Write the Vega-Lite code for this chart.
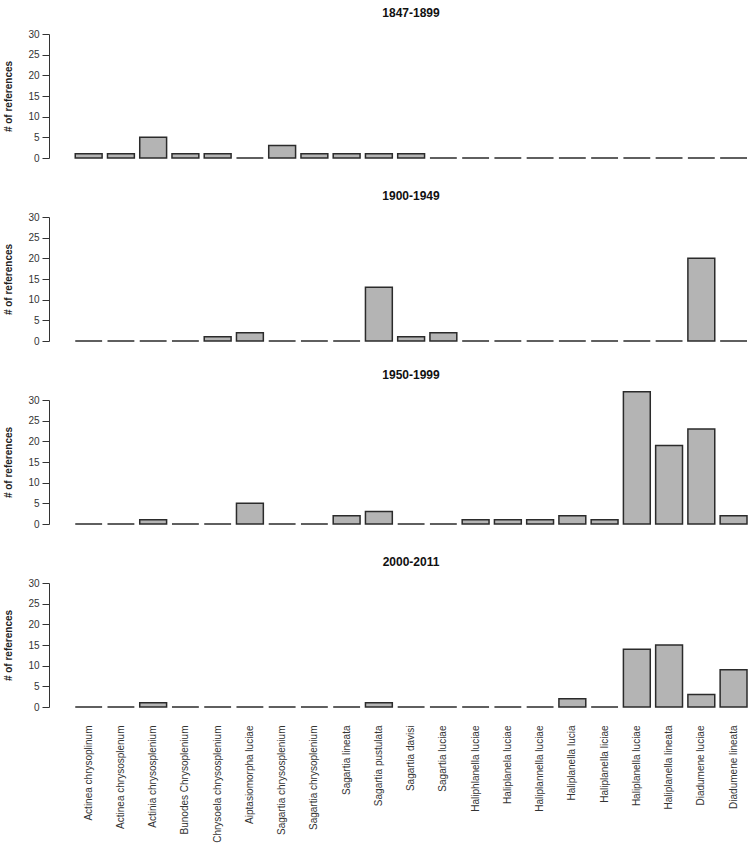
{
  "$schema": "https://vega.github.io/schema/vega-lite/v6.json",
  "background": "white",
  "padding": {"left": 3, "top": 7, "right": 0, "bottom": 0},
  "bounds": "flush",
  "spacing": 59,
  "config": {
    "view": {"stroke": null},
    "font": "Liberation Sans",
    "title": {"fontSize": 12, "fontWeight": "bold", "color": "#111111", "anchor": "middle", "offset": 9, "dx": 10},
    "axisY": {
      "labelFontSize": 10, "labelColor": "#333333", "labelPadding": 3,
      "tickSize": 7, "tickColor": "#333333", "domainColor": "#333333",
      "titleFontSize": 10, "titleFontWeight": "bold", "titleColor": "#222222", "titlePadding": 14,
      "grid": false
    },
    "axisX": {
      "labelFontSize": 10, "labelColor": "#333333", "labelPadding": 18, "labelLimit": 0,
      "domain": false, "ticks": false, "tickSize": 0, "grid": false
    }
  },
  "data": {"values": [
    {"period": "1847-1899", "idx": 1, "species": "Actinea chrysoplinum", "n": 1},
    {"period": "1847-1899", "idx": 2, "species": "Actinea chrysosplenum", "n": 1},
    {"period": "1847-1899", "idx": 3, "species": "Actinia chrysosplenium", "n": 5},
    {"period": "1847-1899", "idx": 4, "species": "Bunodes Chrysoplenium", "n": 1},
    {"period": "1847-1899", "idx": 5, "species": "Chrysoela chrysosplenium", "n": 1},
    {"period": "1847-1899", "idx": 6, "species": "Aiptasiomorpha luciae", "n": 0},
    {"period": "1847-1899", "idx": 7, "species": "Sagartia chrysosplenium", "n": 3},
    {"period": "1847-1899", "idx": 8, "species": "Sagartia chrysoplenium", "n": 1},
    {"period": "1847-1899", "idx": 9, "species": "Sagartia lineata", "n": 1},
    {"period": "1847-1899", "idx": 10, "species": "Sagartia pustulata", "n": 1},
    {"period": "1847-1899", "idx": 11, "species": "Sagartia davisi", "n": 1},
    {"period": "1847-1899", "idx": 12, "species": "Sagartia luciae", "n": 0},
    {"period": "1847-1899", "idx": 13, "species": "Haliphlanella luciae", "n": 0},
    {"period": "1847-1899", "idx": 14, "species": "Haliplanela luciae", "n": 0},
    {"period": "1847-1899", "idx": 15, "species": "Haliplannella luciae", "n": 0},
    {"period": "1847-1899", "idx": 16, "species": "Haliplanella lucia", "n": 0},
    {"period": "1847-1899", "idx": 17, "species": "Haliplanella liciae", "n": 0},
    {"period": "1847-1899", "idx": 18, "species": "Haliplanella luciae", "n": 0},
    {"period": "1847-1899", "idx": 19, "species": "Haliplanella lineata", "n": 0},
    {"period": "1847-1899", "idx": 20, "species": "Diadumene luciae", "n": 0},
    {"period": "1847-1899", "idx": 21, "species": "Diadumene lineata", "n": 0},

    {"period": "1900-1949", "idx": 1, "species": "Actinea chrysoplinum", "n": 0},
    {"period": "1900-1949", "idx": 2, "species": "Actinea chrysosplenum", "n": 0},
    {"period": "1900-1949", "idx": 3, "species": "Actinia chrysosplenium", "n": 0},
    {"period": "1900-1949", "idx": 4, "species": "Bunodes Chrysoplenium", "n": 0},
    {"period": "1900-1949", "idx": 5, "species": "Chrysoela chrysosplenium", "n": 1},
    {"period": "1900-1949", "idx": 6, "species": "Aiptasiomorpha luciae", "n": 2},
    {"period": "1900-1949", "idx": 7, "species": "Sagartia chrysosplenium", "n": 0},
    {"period": "1900-1949", "idx": 8, "species": "Sagartia chrysoplenium", "n": 0},
    {"period": "1900-1949", "idx": 9, "species": "Sagartia lineata", "n": 0},
    {"period": "1900-1949", "idx": 10, "species": "Sagartia pustulata", "n": 13},
    {"period": "1900-1949", "idx": 11, "species": "Sagartia davisi", "n": 1},
    {"period": "1900-1949", "idx": 12, "species": "Sagartia luciae", "n": 2},
    {"period": "1900-1949", "idx": 13, "species": "Haliphlanella luciae", "n": 0},
    {"period": "1900-1949", "idx": 14, "species": "Haliplanela luciae", "n": 0},
    {"period": "1900-1949", "idx": 15, "species": "Haliplannella luciae", "n": 0},
    {"period": "1900-1949", "idx": 16, "species": "Haliplanella lucia", "n": 0},
    {"period": "1900-1949", "idx": 17, "species": "Haliplanella liciae", "n": 0},
    {"period": "1900-1949", "idx": 18, "species": "Haliplanella luciae", "n": 0},
    {"period": "1900-1949", "idx": 19, "species": "Haliplanella lineata", "n": 0},
    {"period": "1900-1949", "idx": 20, "species": "Diadumene luciae", "n": 20},
    {"period": "1900-1949", "idx": 21, "species": "Diadumene lineata", "n": 0},

    {"period": "1950-1999", "idx": 1, "species": "Actinea chrysoplinum", "n": 0},
    {"period": "1950-1999", "idx": 2, "species": "Actinea chrysosplenum", "n": 0},
    {"period": "1950-1999", "idx": 3, "species": "Actinia chrysosplenium", "n": 1},
    {"period": "1950-1999", "idx": 4, "species": "Bunodes Chrysoplenium", "n": 0},
    {"period": "1950-1999", "idx": 5, "species": "Chrysoela chrysosplenium", "n": 0},
    {"period": "1950-1999", "idx": 6, "species": "Aiptasiomorpha luciae", "n": 5},
    {"period": "1950-1999", "idx": 7, "species": "Sagartia chrysosplenium", "n": 0},
    {"period": "1950-1999", "idx": 8, "species": "Sagartia chrysoplenium", "n": 0},
    {"period": "1950-1999", "idx": 9, "species": "Sagartia lineata", "n": 2},
    {"period": "1950-1999", "idx": 10, "species": "Sagartia pustulata", "n": 3},
    {"period": "1950-1999", "idx": 11, "species": "Sagartia davisi", "n": 0},
    {"period": "1950-1999", "idx": 12, "species": "Sagartia luciae", "n": 0},
    {"period": "1950-1999", "idx": 13, "species": "Haliphlanella luciae", "n": 1},
    {"period": "1950-1999", "idx": 14, "species": "Haliplanela luciae", "n": 1},
    {"period": "1950-1999", "idx": 15, "species": "Haliplannella luciae", "n": 1},
    {"period": "1950-1999", "idx": 16, "species": "Haliplanella lucia", "n": 2},
    {"period": "1950-1999", "idx": 17, "species": "Haliplanella liciae", "n": 1},
    {"period": "1950-1999", "idx": 18, "species": "Haliplanella luciae", "n": 32},
    {"period": "1950-1999", "idx": 19, "species": "Haliplanella lineata", "n": 19},
    {"period": "1950-1999", "idx": 20, "species": "Diadumene luciae", "n": 23},
    {"period": "1950-1999", "idx": 21, "species": "Diadumene lineata", "n": 2},

    {"period": "2000-2011", "idx": 1, "species": "Actinea chrysoplinum", "n": 0},
    {"period": "2000-2011", "idx": 2, "species": "Actinea chrysosplenum", "n": 0},
    {"period": "2000-2011", "idx": 3, "species": "Actinia chrysosplenium", "n": 1},
    {"period": "2000-2011", "idx": 4, "species": "Bunodes Chrysoplenium", "n": 0},
    {"period": "2000-2011", "idx": 5, "species": "Chrysoela chrysosplenium", "n": 0},
    {"period": "2000-2011", "idx": 6, "species": "Aiptasiomorpha luciae", "n": 0},
    {"period": "2000-2011", "idx": 7, "species": "Sagartia chrysosplenium", "n": 0},
    {"period": "2000-2011", "idx": 8, "species": "Sagartia chrysoplenium", "n": 0},
    {"period": "2000-2011", "idx": 9, "species": "Sagartia lineata", "n": 0},
    {"period": "2000-2011", "idx": 10, "species": "Sagartia pustulata", "n": 1},
    {"period": "2000-2011", "idx": 11, "species": "Sagartia davisi", "n": 0},
    {"period": "2000-2011", "idx": 12, "species": "Sagartia luciae", "n": 0},
    {"period": "2000-2011", "idx": 13, "species": "Haliphlanella luciae", "n": 0},
    {"period": "2000-2011", "idx": 14, "species": "Haliplanela luciae", "n": 0},
    {"period": "2000-2011", "idx": 15, "species": "Haliplannella luciae", "n": 0},
    {"period": "2000-2011", "idx": 16, "species": "Haliplanella lucia", "n": 2},
    {"period": "2000-2011", "idx": 17, "species": "Haliplanella liciae", "n": 0},
    {"period": "2000-2011", "idx": 18, "species": "Haliplanella luciae", "n": 14},
    {"period": "2000-2011", "idx": 19, "species": "Haliplanella lineata", "n": 15},
    {"period": "2000-2011", "idx": 20, "species": "Diadumene luciae", "n": 3},
    {"period": "2000-2011", "idx": 21, "species": "Diadumene lineata", "n": 9}
  ]},
  "vconcat": [
    {
      "title": "1847-1899",
      "transform": [{"filter": "datum.period === '1847-1899'"}],
      "width": 704, "height": 124,
      "mark": {"type": "bar", "fill": "#b4b4b4", "stroke": "#2b2b2b", "strokeWidth": 1.5},
      "encoding": {
        "x": {"field": "species", "type": "nominal", "sort": {"field": "idx", "op": "min"}, "axis": null,
              "scale": {"paddingInner": 0.1667, "paddingOuter": 0.5, "align": 0.814}},
        "y": {"field": "n", "type": "quantitative", "scale": {"domain": [0, 30], "nice": false},
              "axis": {"values": [0, 5, 10, 15, 20, 25, 30], "title": "# of references"}}
      }
    },
    {
      "title": "1900-1949",
      "transform": [{"filter": "datum.period === '1900-1949'"}],
      "width": 704, "height": 124,
      "mark": {"type": "bar", "fill": "#b4b4b4", "stroke": "#2b2b2b", "strokeWidth": 1.5},
      "encoding": {
        "x": {"field": "species", "type": "nominal", "sort": {"field": "idx", "op": "min"}, "axis": null,
              "scale": {"paddingInner": 0.1667, "paddingOuter": 0.5, "align": 0.814}},
        "y": {"field": "n", "type": "quantitative", "scale": {"domain": [0, 30], "nice": false},
              "axis": {"values": [0, 5, 10, 15, 20, 25, 30], "title": "# of references"}}
      }
    },
    {
      "title": "1950-1999",
      "transform": [{"filter": "datum.period === '1950-1999'"}],
      "width": 704, "height": 124,
      "mark": {"type": "bar", "fill": "#b4b4b4", "stroke": "#2b2b2b", "strokeWidth": 1.5},
      "encoding": {
        "x": {"field": "species", "type": "nominal", "sort": {"field": "idx", "op": "min"}, "axis": null,
              "scale": {"paddingInner": 0.1667, "paddingOuter": 0.5, "align": 0.814}},
        "y": {"field": "n", "type": "quantitative", "scale": {"domain": [0, 30], "nice": false},
              "axis": {"values": [0, 5, 10, 15, 20, 25, 30], "title": "# of references"}}
      }
    },
    {
      "title": "2000-2011",
      "transform": [{"filter": "datum.period === '2000-2011'"}],
      "width": 704, "height": 124,
      "mark": {"type": "bar", "fill": "#b4b4b4", "stroke": "#2b2b2b", "strokeWidth": 1.5},
      "encoding": {
        "x": {"field": "species", "type": "nominal", "sort": {"field": "idx", "op": "min"},
              "axis": {"title": null, "labelAngle": -90, "labelAlign": "right", "labelBaseline": "middle"},
              "scale": {"paddingInner": 0.1667, "paddingOuter": 0.5, "align": 0.814}},
        "y": {"field": "n", "type": "quantitative", "scale": {"domain": [0, 30], "nice": false},
              "axis": {"values": [0, 5, 10, 15, 20, 25, 30], "title": "# of references"}}
      }
    }
  ]
}
